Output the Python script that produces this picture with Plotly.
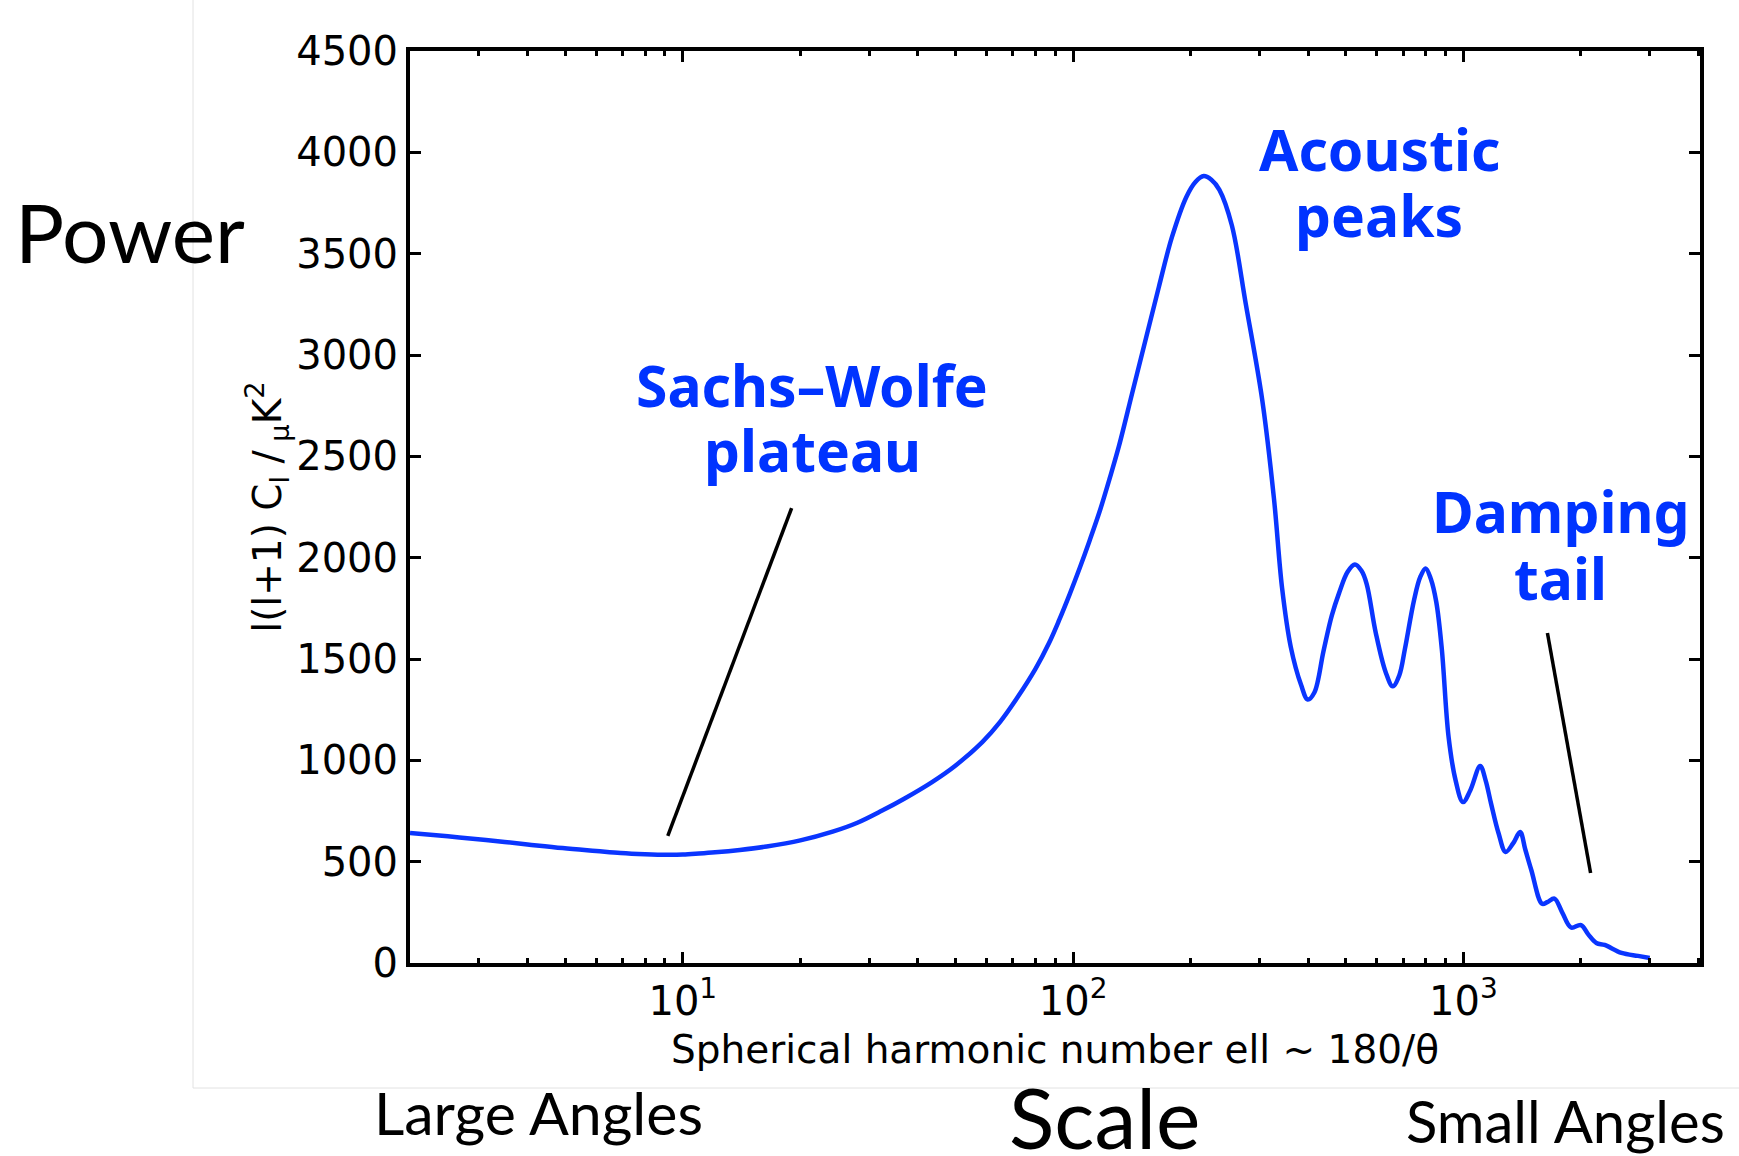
import plotly.graph_objects as go

# ---------------- data ----------------
ell = [2, 2.5, 3.13, 4, 4.92, 6, 6.93, 8, 9.1, 10, 11, 12.1, 14, 16.4, 20, 24.2, 28, 32.4,
       37, 43.5, 50, 58.5, 65, 71.4, 80, 86.8, 92, 98, 104, 110, 117, 124, 131, 142, 154,
       166, 179, 195, 206, 216, 226, 237, 255, 277, 305, 327, 343, 361, 384, 399, 415,
       438, 460, 480, 505, 527, 548, 565, 596, 632, 659, 685, 708, 747, 775, 800, 825,
       852, 880, 916, 955, 997, 1040, 1104, 1140, 1176, 1230, 1282, 1340, 1397, 1440,
       1492, 1590, 1640, 1710, 1790, 1886, 2000, 2090, 2190, 2300, 2540, 2800, 3000]
power = [641, 625, 607, 585, 567, 553, 543, 537, 534, 535, 540, 546, 558, 575, 605, 648, 692, 752,
         812, 893, 975, 1090, 1190, 1300, 1450, 1580, 1690, 1820, 1950, 2080, 2230, 2390, 2550, 2820, 3090,
         3340, 3580, 3780, 3855, 3883, 3865, 3815, 3640, 3250, 2780, 2290, 1850, 1560, 1370, 1300, 1335,
         1540, 1715, 1825, 1930, 1966, 1935, 1870, 1630, 1435, 1365, 1420, 1550, 1790, 1905, 1947, 1895,
         1780, 1550, 1115, 900, 794, 850, 972, 900, 789, 640, 548, 590, 646, 560,
         459, 292, 300, 318, 250, 175, 187, 140, 99, 89, 50, 35, 25]

y_ticks = [0, 500, 1000, 1500, 2000, 2500, 3000, 3500, 4000, 4500]
x_tickvals = [10, 100, 1000]
x_ticktext = ["10<sup>1</sup>", "10<sup>2</sup>", "10<sup>3</sup>"]

# pointer lines (ell, value) endpoints
sw_ptr_ell = [9.15, 19.0]
sw_ptr_val = [627, 2245]
dt_ptr_ell = [1641, 2117]
dt_ptr_val = [1628, 444]

# ---------------- layout helpers (pixel -> paper) ----------------
W, H = 1739, 1156
PL, PR, PT, PB = 410, 1700, 51, 963


def px_x(px):
    return (px - PL) / (PR - PL)


def px_y(py):
    return (PB - py) / (PB - PT)


BLUE = "#0033ff"
LINE_BLUE = "#0a35ff"

fig = go.Figure()
fig.add_trace(go.Scatter(x=ell, y=power, mode="lines",
                         line=dict(color=LINE_BLUE, width=4.5, shape="spline", smoothing=1.0),
                         showlegend=False, hoverinfo="skip"))
fig.add_trace(go.Scatter(x=sw_ptr_ell, y=sw_ptr_val, mode="lines",
                         line=dict(color="black", width=3.5), showlegend=False, hoverinfo="skip"))
fig.add_trace(go.Scatter(x=dt_ptr_ell, y=dt_ptr_val, mode="lines",
                         line=dict(color="black", width=3.5), showlegend=False, hoverinfo="skip"))

tick_font = dict(family="DejaVu Sans", size=40, color="black")
title_font = dict(family="DejaVu Sans", size=39, color="black")

fig.update_layout(
    width=W, height=H,
    margin=dict(l=PL, r=W - PR, t=PT, b=H - PB),
    paper_bgcolor="white", plot_bgcolor="white",
    xaxis=dict(type="log", range=[0.301, 3.606], showgrid=False, zeroline=False,
               showline=True, linecolor="black", linewidth=4, mirror="ticks",
               ticks="inside", ticklen=11, tickwidth=3, tickcolor="black",
               tickvals=x_tickvals, ticktext=x_ticktext, tickfont=tick_font,
               minor=dict(dtick="D1", ticks="inside", ticklen=5, tickwidth=3,
                          tickcolor="black", showgrid=False),
               title=dict(text="Spherical harmonic number ell ~ 180/θ", font=title_font, standoff=14)),
    yaxis=dict(range=[0, 4500], tickvals=y_ticks, showgrid=False, zeroline=False,
               showline=True, linecolor="black", linewidth=4, mirror="ticks",
               ticks="inside", ticklen=11, tickwidth=3, tickcolor="black",
               tickfont=tick_font,
               title=dict(text="l(l+1) C<sub>l</sub> /<sub> μ</sub>K<sup>2</sup>", font=title_font, standoff=4)),
)

# faint border of the embedded image
fig.add_shape(type="line", xref="paper", yref="paper",
              x0=px_x(193), x1=px_x(193), y0=px_y(-5), y1=px_y(1088),
              line=dict(color="#e2e2e2", width=1))
fig.add_shape(type="line", xref="paper", yref="paper",
              x0=px_x(193), x1=px_x(1745), y0=px_y(1088), y1=px_y(1088),
              line=dict(color="#e2e2e2", width=1))


def label(text, cx, cy, font):
    fig.add_annotation(text=text, xref="paper", yref="paper", x=px_x(cx), y=px_y(cy),
                       xanchor="center", yanchor="middle", showarrow=False, font=font)


blue_font = dict(family="Noto Sans", size=57, color=BLUE, weight="bold")
label("Acoustic", 1379, 149, blue_font)
label("peaks", 1379, 215, blue_font)
label("Sachs–Wolfe", 812, 385, blue_font)
label("plateau", 812, 450, blue_font)
label("Damping", 1561, 511, blue_font)
label("tail", 1560, 578, blue_font)

label("Power", 130, 231, dict(family="Lato", size=82, color="black"))
label("Large Angles", 538, 1112, dict(family="Lato", size=59, color="black"))
label("Scale", 1104, 1116, dict(family="Lato", size=84, color="black"))
label("Small Angles", 1565, 1120, dict(family="Lato", size=58, color="black"))

fig.write_html("out.html")
